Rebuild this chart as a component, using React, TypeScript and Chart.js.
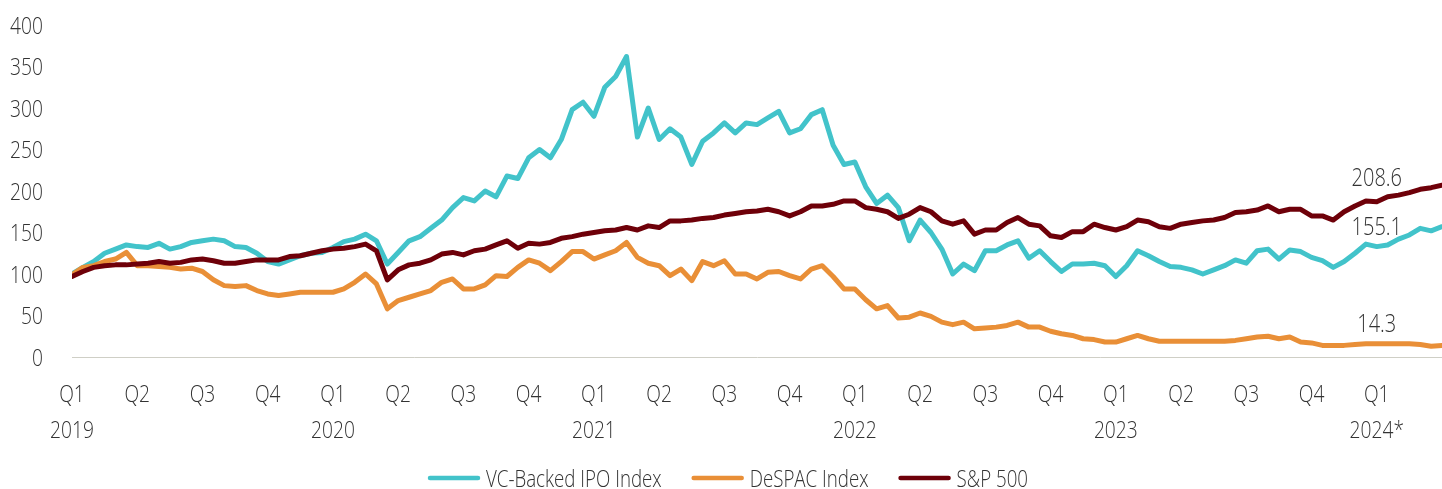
import React, { useEffect, useRef } from "react";
import { Chart, registerables } from "chart.js";

Chart.register(...registerables);

const FONT = "'Open Sans', 'DejaVu Sans', sans-serif";
const TEXT = "#333333";
const SX = 0.8; // condensed look
const SX_LEGEND = 0.78;

const seriesNames = ["VC-Backed IPO Index", "DeSPAC Index", "S&P 500"];
const seriesColors = ["#42C3CA", "#E98F37", "#6E0009"];

// half-monthly readings, Q1 2019 .. end of Q1 2024 (6 points per quarter)
const vcBacked = [
  100, 108, 115, 125, 130, 135, 133, 132, 137, 130, 133, 138,
  140, 142, 140, 133, 132, 125, 115, 112, 117, 122, 125, 126,
  132, 139, 142, 148, 140, 112, 126, 140, 145, 155, 165, 180,
  192, 188, 200, 193, 218, 215, 240, 250, 240, 262, 298, 307,
  290, 325, 338, 362, 265, 300, 262, 275, 265, 232, 260, 270,
  282, 270, 282, 280, 288, 296, 270, 275, 292, 298, 255, 232,
  235, 205, 185, 195, 180, 140, 165, 150, 130, 100, 112, 104,
  128, 128, 135, 140, 119, 128, 115, 103, 112, 112, 113, 110,
  97, 110, 128, 122, 115, 109, 108, 105, 100, 105, 110, 117,
  113, 128, 130, 118, 129, 127, 120, 116, 108, 115, 125, 136,
  133, 135, 142, 147, 155, 152, 157,
];

const deSpac = [
  99, 108, 110, 115, 118, 126, 110, 110, 109, 108, 106, 107,
  103, 93, 86, 85, 86, 80, 76, 74, 76, 78, 78, 78,
  78, 82, 90, 100, 88, 58, 68, 72, 76, 80, 90, 94,
  82, 82, 87, 98, 97, 108, 117, 113, 104, 115, 127, 127,
  118, 123, 128, 138, 120, 113, 110, 98, 106, 92, 115, 110,
  116, 100, 100, 94, 102, 103, 98, 94, 106, 110, 97, 82,
  82, 69, 58, 62, 47, 48, 53, 49, 42, 39, 42, 34,
  35, 36, 38, 42, 36, 36, 31, 28, 26, 22, 21, 18,
  18, 22, 26, 22, 19, 19, 19, 19, 19, 19, 19, 20,
  22, 24, 25, 22, 24, 18, 17, 14, 14, 14, 15, 16,
  16, 16, 16, 16, 15, 13, 14,
];

const sp500 = [
  97, 103, 108, 110, 111, 111, 112, 113, 115, 113, 114, 117,
  118, 116, 113, 113, 115, 117, 117, 117, 121, 122, 125, 128,
  130, 131, 133, 136, 128, 93, 105, 111, 113, 117, 124, 126,
  123, 128, 130, 135, 140, 131, 137, 136, 138, 143, 145, 148,
  150, 152, 153, 156, 153, 158, 156, 164, 164, 165, 167, 168,
  171, 173, 175, 176, 178, 175, 170, 175, 182, 182, 184, 188,
  188, 180, 178, 175, 167, 172, 180, 175, 164, 160, 164, 148,
  153, 153, 162, 168, 160, 158, 146, 144, 151, 151, 160, 156,
  153, 157, 165, 163, 157, 155, 160, 162, 164, 165, 168, 174,
  175, 177, 182, 175, 178, 178, 170, 170, 165, 175, 182, 188,
  187, 193, 195, 198, 202, 204, 207,
];

const endLabels = ["155.1", "14.3", "208.6"];
const quarterLabels = ["Q1", "Q2", "Q3", "Q4"];
const yearLabels = ["2019", "2020", "2021", "2022", "2023", "2024*"];
const yTickValues = [0, 50, 100, 150, 200, 250, 300, 350, 400];

const POINTS_PER_QUARTER = 6;
const QUARTERS = 21;
const LABEL_QUARTER = 20;
const LABEL_DY = [7, -13, 2];

const CANVAS_W = 1442;
const CANVAS_H = 489;
const PLOT_TOP = 25;
const PLOT_BOTTOM = 357;
const PLOT_LEFT = 72;
const Y_LABEL_RIGHT = 43;
const Q_BASELINE = 402;
const YEAR_BASELINE = 438;
const LEGEND_MID = 478;
const LEGEND_CENTER = 728;
const LEGEND_LINE = 52;
const LEGEND_GAP_TEXT = 6;
const LEGEND_GAP_ITEM = 30;

const toPoints = (arr: number[]) => arr.map((v, i) => ({ x: i / POINTS_PER_QUARTER, y: v }));

function drawText(
  ctx: CanvasRenderingContext2D,
  text: string,
  x: number,
  y: number,
  align: CanvasTextAlign,
  sx: number = SX
) {
  ctx.save();
  ctx.translate(x, y);
  ctx.scale(sx, 1);
  ctx.textAlign = align;
  ctx.textBaseline = "alphabetic";
  ctx.fillText(text, 0, 0);
  ctx.restore();
}

const textPlugin = {
  id: "textLayer",
  afterDraw(chart: any) {
    const { ctx, scales } = chart;
    const x = scales.x;
    const y = scales.y;
    ctx.save();
    ctx.fillStyle = TEXT;

    // y ticks
    ctx.font = `300 24px ${FONT}`;
    yTickValues.forEach((v) => {
      drawText(ctx, String(v), Y_LABEL_RIGHT, y.getPixelForValue(v) + 8.5, "right");
    });

    // x ticks
    for (let n = 0; n < QUARTERS; n++) {
      const px = x.getPixelForValue(n);
      drawText(ctx, quarterLabels[n % 4], px, Q_BASELINE, "center");
      if (n % 4 === 0) drawText(ctx, yearLabels[n / 4], px, YEAR_BASELINE, "center");
    }

    // end labels
    ctx.font = `300 25px ${FONT}`;
    endLabels.forEach((t, k) => {
      const px = x.getPixelForValue(LABEL_QUARTER);
      const py = y.getPixelForValue(parseFloat(t)) + LABEL_DY[k];
      drawText(ctx, t, px, py, "center");
    });

    // legend
    ctx.font = `300 24px ${FONT}`;
    const widths = seriesNames.map((n) => ctx.measureText(n).width * SX_LEGEND);
    const total =
      widths.reduce((a, b) => a + b, 0) +
      seriesNames.length * (LEGEND_LINE + LEGEND_GAP_TEXT) +
      (seriesNames.length - 1) * LEGEND_GAP_ITEM;
    let cx = LEGEND_CENTER - total / 2;
    seriesNames.forEach((n, k) => {
      ctx.strokeStyle = seriesColors[k];
      ctx.lineWidth = 4.5;
      ctx.lineCap = "round";
      ctx.beginPath();
      ctx.moveTo(cx + 2, LEGEND_MID);
      ctx.lineTo(cx + LEGEND_LINE - 2, LEGEND_MID);
      ctx.stroke();
      cx += LEGEND_LINE + LEGEND_GAP_TEXT;
      drawText(ctx, n, cx, LEGEND_MID + 9, "left", SX_LEGEND);
      cx += widths[k] + LEGEND_GAP_ITEM;
    });
    ctx.restore();
  },
};

export default function App() {
  const ref = useRef<HTMLCanvasElement | null>(null);

  useEffect(() => {
    if (!ref.current) return;
    const series = [vcBacked, deSpac, sp500];
    const orders = [2, 1, 0];
    const chart = new Chart(ref.current, {
      type: "line",
      data: {
        datasets: series.map((s, k) => ({
          label: seriesNames[k],
          data: toPoints(s),
          borderColor: seriesColors[k],
          backgroundColor: seriesColors[k],
          borderWidth: 5,
          pointRadius: 0,
          tension: 0,
          borderJoinStyle: "round" as const,
          borderCapStyle: "round" as const,
          order: orders[k],
        })),
      },
      options: {
        animation: false,
        responsive: true,
        maintainAspectRatio: false,
        layout: { padding: { top: PLOT_TOP, right: 0, bottom: 0, left: 0 } },
        plugins: {
          legend: { display: false },
          tooltip: { enabled: false },
        },
        scales: {
          x: {
            type: "linear",
            min: 0,
            max: QUARTERS,
            grid: { display: false, drawTicks: false },
            border: { display: true, color: "#cfcfc6", width: 1 },
            ticks: { display: false, stepSize: 1 },
            afterFit: (scale: any) => {
              scale.height = CANVAS_H - PLOT_BOTTOM;
            },
          },
          y: {
            min: 0,
            max: 400,
            grid: { display: false, drawTicks: false },
            border: { display: false },
            ticks: { display: false, stepSize: 50 },
            afterFit: (scale: any) => {
              scale.width = PLOT_LEFT;
            },
          },
        },
      },
      plugins: [textPlugin],
    });
    return () => chart.destroy();
  }, []);

  return (
    <div style={{ position: "fixed", left: 0, top: 0, width: CANVAS_W, height: CANVAS_H, background: "#fff" }}>
      <canvas ref={ref} />
    </div>
  );
}
